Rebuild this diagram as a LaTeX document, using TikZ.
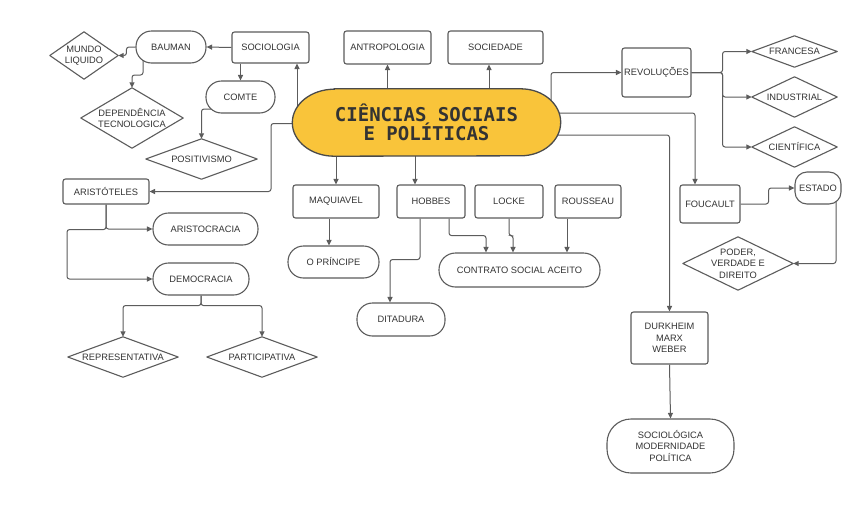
\documentclass[tikz,border=0pt]{standalone}
\usepackage{fontspec}
\setmainfont{Liberation Sans}
\newfontfamily\titlefont{DejaVu Sans Mono}
\usetikzlibrary{arrows.meta,backgrounds}
\definecolor{linec}{HTML}{5C5C5C}
\definecolor{txt}{HTML}{333333}
\definecolor{mainfill}{HTML}{F9C43A}
\tikzset{
  every node/.style={font=\fontsize{9.3}{11.3}\selectfont, text=txt},
  box/.style={draw=linec, line width=1.1pt, fill=white, rounded corners=2.5pt, align=center, inner sep=1pt},
  pill/.style={box, rounded corners=15.5pt},
  dia/.style={align=center, inner sep=0pt},
  shp/.style={draw=linec, line width=1.1pt, line join=round},
  arr/.style={draw=linec, line width=1pt, rounded corners=2.5pt, -{Triangle[length=5.5pt,width=5pt]}},
}
\newcommand\mydia[6]{%
  \node[dia, minimum width=#4pt, minimum height=#5pt] (#1) at (#2,#3) {#6};
  \draw[shp] (#1.west) -- (#1.north) -- (#1.east) -- (#1.south) -- cycle;}
\begin{document}
\begin{tikzpicture}[x=1pt,y=-1pt]
\useasboundingbox (0,0) rectangle (851,504);
% main (outline drawn on background layer)
\node[minimum width=268pt, minimum height=67pt, align=center, inner sep=0pt,
  font=\titlefont\bfseries\fontsize{19}{19}\selectfont] (main) at (426.5,122.5) {CIÊNCIAS SOCIAIS\\E POLÍTICAS};
% top
\node[box, minimum width=77pt, minimum height=31pt] (soc) at (270.5,47.5) {SOCIOLOGIA};
\node[pill, minimum width=70pt, minimum height=32pt] (bauman) at (171,47) {BAUMAN};
\mydia{mundo}{84}{55.5}{68}{47}{MUNDO\\LIQUIDO}
\mydia{dep}{132}{118}{102}{60}{DEPENDÊNCIA\\TECNOLOGICA}
\node[pill, minimum width=69pt, minimum height=32pt] (comte) at (240.5,97) {COMTE};
\mydia{posit}{201.5}{159}{111}{40}{POSITIVISMO}
\node[box, minimum width=87pt, minimum height=33pt] (antro) at (387.5,47.5) {ANTROPOLOGIA};
\node[box, minimum width=95pt, minimum height=33pt] (socied) at (495.5,47.5) {SOCIEDADE};
% right
\node[box, minimum width=69pt, minimum height=49pt] (revol) at (656.5,72.5) {REVOLUÇÕES};
\mydia{franc}{794.5}{51.5}{85}{31}{FRANCESA}
\mydia{indus}{794.5}{97}{85}{40}{INDUSTRIAL}
\mydia{cient}{794.5}{147}{85}{40}{CIENTÍFICA}
\node[box, minimum width=60pt, minimum height=38pt] (fouc) at (710,204) {FOUCAULT};
\node[box, rounded corners=12pt, minimum width=46pt, minimum height=32pt] (estado) at (818,188) {ESTADO};
\mydia{poder}{738}{263.5}{110}{53}{PODER,\\VERDADE E\\DIREITO}
\node[box, minimum width=77pt, minimum height=52pt] (durk) at (669.5,338) {DURKHEIM\\MARX\\WEBER};
\node[box, rounded corners=24pt, minimum width=127pt, minimum height=54pt] (sociol) at (670.5,446) {SOCIOLÓGICA\\MODERNIDADE\\POLÍTICA};
% left
\node[box, minimum width=86pt, minimum height=25pt] (arist) at (106,191.5) {ARISTÓTELES};
\node[pill, minimum width=105pt, minimum height=32pt] (aristoc) at (205.5,229) {ARISTOCRACIA};
\node[pill, minimum width=96pt, minimum height=32pt] (democ) at (201,279) {DEMOCRACIA};
\mydia{repr}{123}{357}{110}{40}{REPRESENTATIVA}
\mydia{partic}{262}{357}{110}{40}{PARTICIPATIVA}
% middle
\node[box, minimum width=86pt, minimum height=33pt] (maq) at (336,201.5) {MAQUIAVEL};
\node[pill, minimum width=91pt, minimum height=32pt] (princ) at (333.5,262) {O PRÍNCIPE};
\node[box, minimum width=68pt, minimum height=33pt] (hob) at (431,201.5) {HOBBES};
\node[box, minimum width=68pt, minimum height=33pt] (locke) at (509,201.5) {LOCKE};
\node[box, minimum width=66pt, minimum height=33pt] (rouss) at (588,201.5) {ROUSSEAU};
\node[pill, rounded corners=16.5pt, minimum width=161pt, minimum height=34pt] (contr) at (519.5,270) {CONTRATO SOCIAL ACEITO};
\node[pill, minimum width=88pt, minimum height=33pt] (ditad) at (401,319.5) {DITADURA};
% helper coordinates
\coordinate (s1) at ([xshift=-129.5pt]main.center);
\coordinate (s3) at ([xshift=-6.5pt]socied.south);
\coordinate (s4) at ([xshift=124.5pt]main.center);
\coordinate (s5) at ([yshift=9.5pt]main.center);
\coordinate (t5) at ([xshift=-15pt]fouc.north);
\coordinate (s6) at ([yshift=-12.5pt]main.center);
\coordinate (t7) at ([xshift=-16pt]hob.north);
\coordinate (b1) at ([xshift=-28pt]bauman.center);
\coordinate (rj) at ([xshift=31pt]revol.east);
\coordinate (e1) at ([xshift=18pt]estado.center);
\coordinate (mq) at ([xshift=-7pt]maq.south);
\coordinate (h1) at ([xshift=-11pt]hob.south);
\coordinate (h2) at ([xshift=18pt]hob.south);
\coordinate (ro) at ([xshift=-21pt]rouss.south);
\begin{pgfonlayer}{background}
\fill[white] (0,0) rectangle (851,504);
% from main
\draw[arr] (s1) -- (s1 |- soc.south);
\draw[arr] (antro.south |- main.center) -- (antro.south);
\draw[arr] (s3 |- main.center) -- (s3);
\draw[arr] (s4) |- (revol.west);
\draw[arr] (s5) -| (t5);
\draw[arr] (s6) -| (durk.north);
\draw[arr] (maq.north |- main.center) -- (maq.north);
\draw[arr] (t7 |- main.center) -- (t7);
\draw[arr] ([yshift=-1pt]main.center) -- ++(-155.5,0) |- (arist.east);
% main shape with elliptical ends
\path[draw=linec!80!black, line width=1.3pt, fill=mainfill]
  ([xshift=42pt]main.north west) -- ([xshift=-40pt]main.north east)
  arc[start angle=90, end angle=-90, x radius=40pt, y radius=33.5pt]
  -- ([xshift=42pt]main.south west)
  arc[start angle=270, end angle=90, x radius=42pt, y radius=33.5pt] -- cycle;
% sociologia branch
\draw[arr] (soc.west) -- (bauman.east);
\draw[arr] (bauman.west) -- ++(-9,0) |- (mundo.east);
\draw[arr] (b1) -- ++(0,28) -| (dep.north);
\draw[arr] (comte.north |- soc.south) -- (comte.north);
\draw[arr] ([yshift=-12pt]comte.center) -| (posit.north);
% revolucoes
\draw[arr] (revol.east) -- (rj) |- (franc.west);
\draw[arr] (revol.east) -- (rj) |- (indus.west);
\draw[arr] (revol.east) -- (rj) |- (cient.west);
% foucault
\draw[arr] (fouc.east) -- ++(28,0) |- (estado.west);
\draw[arr] (e1) |- (poder.east);
\draw[arr] (durk.south) -- (sociol.north);
% aristoteles
\draw[arr] (arist.south) |- (aristoc.west);
\draw[arr] (arist.south) -- ++(0,25) -- ++(-39,0) |- (democ.west);
\draw[arr] (democ.south) -- ++(0,10) -| (repr.north);
\draw[arr] (democ.south) -- ++(0,10) -| (partic.north);
% middle
\draw[arr] (mq) -- (mq |- princ.north);
\draw[arr] (h1) -- ++(0,41) -| ([xshift=-11pt]ditad.north);
\draw[arr] (h2) -- ++(0,17) -| ([xshift=-33.5pt]contr.north);
\draw[arr] (locke.south) -- ++(0,17) -| ([xshift=-6.5pt]contr.north);
\draw[arr] (ro) -- (ro |- contr.north);
\end{pgfonlayer}
\end{tikzpicture}
\end{document}
